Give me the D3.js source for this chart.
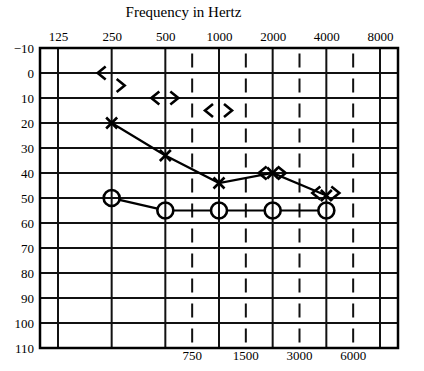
<!DOCTYPE html>
<html>
<head>
<meta charset="utf-8">
<script src="https://cdn.jsdelivr.net/npm/d3@7"></script>
<style>
  html, body { margin: 0; padding: 0; background: #fff; }
  svg { display: block; }
  text { font-family: "Liberation Serif", "Times New Roman", serif; fill: #000; }
</style>
</head>
<body>
<script>
// ---- data ----
const topFreqs = [125, 250, 500, 1000, 2000, 4000, 8000];
const midFreqs = [750, 1500, 3000, 6000];
const dbTicks = [-10, 0, 10, 20, 30, 40, 50, 60, 70, 80, 90, 100, 110];

// Air conduction, X symbols
const xFreqs = [250, 500, 1000, 2000, 4000];
const xValues = [20, 33, 44, 40, 49];

// Air conduction, O symbols
const oFreqs = [250, 500, 1000, 2000, 4000];
const oValues = [50, 55, 55, 55, 55];

// Bone conduction "<" symbols
const boneLeftFreqs = [250, 500, 1000, 2000, 4000];
const boneLeftValues = [0, 10, 15, 40, 48];

// Bone conduction ">" symbols
const boneRightFreqs = [250, 500, 1000, 2000, 4000];
const boneRightValues = [5, 10, 15, 40, 48];

const chartTitle = "Frequency in Hertz";

// ---- layout ----
const W = 424, H = 371;
const svg = d3.select("body").append("svg").attr("width", W).attr("height", H);

const x = d3.scaleLog().base(2).domain([125, 8000]).range([58, 380]);
const y = d3.scaleLinear().domain([-10, 110]).range([48, 348]);
// half-octave lines sit midway between the octave lines on the form
const midX = f => x(f / 1.5 * Math.SQRT2);
const pad = 18;
const plotLeft = x(125) - pad, plotRight = x(8000) + pad;
const plotTop = y(-10), plotBottom = y(110);

// horizontal grid lines
svg.append("g").selectAll("line").data(dbTicks).join("line")
  .attr("x1", plotLeft).attr("x2", plotRight)
  .attr("y1", d => y(d)).attr("y2", d => y(d))
  .attr("stroke", "#111").attr("stroke-width", 2);

// solid vertical lines
svg.append("g").selectAll("line").data(topFreqs).join("line")
  .attr("x1", d => x(d)).attr("x2", d => x(d))
  .attr("y1", plotTop).attr("y2", plotBottom)
  .attr("stroke", "#111").attr("stroke-width", 2);

// dashed vertical lines
svg.append("g").selectAll("line").data(midFreqs).join("line")
  .attr("x1", d => midX(d)).attr("x2", d => midX(d))
  .attr("y1", plotTop).attr("y2", plotBottom)
  .attr("stroke", "#111").attr("stroke-width", 2)
  .attr("stroke-dasharray", "14,11").attr("stroke-dashoffset", 19.5);

// frame
svg.append("rect")
  .attr("x", plotLeft).attr("y", plotTop)
  .attr("width", plotRight - plotLeft).attr("height", plotBottom - plotTop)
  .attr("fill", "none").attr("stroke", "#000").attr("stroke-width", 2.5);

// title
svg.append("text").attr("x", 183.5).attr("y", 17)
  .attr("text-anchor", "middle").attr("font-size", 15).text(chartTitle);

// top axis labels
const topAxis = d3.axisTop(x).tickValues(topFreqs).tickFormat(d3.format("d")).tickSize(0).tickPadding(7);
const gTop = svg.append("g").attr("transform", `translate(0,${plotTop})`).call(topAxis);
gTop.select(".domain").remove();
gTop.selectAll("text").attr("font-size", 13).attr("font-family", "Liberation Serif").attr("fill", "#000");

// bottom labels (half-octave)
svg.append("g").selectAll("text").data(midFreqs).join("text")
  .attr("x", d => midX(d)).attr("y", plotBottom + 12)
  .attr("text-anchor", "middle").attr("font-size", 13)
  .text(d3.format("d"));

// left axis labels
const leftAxis = d3.axisLeft(y).tickValues(dbTicks).tickFormat(d => d < 0 ? "\u2212" + Math.abs(d) : String(d)).tickSize(0).tickPadding(6);
const gLeft = svg.append("g").attr("transform", `translate(${plotLeft},0)`).call(leftAxis);
gLeft.select(".domain").remove();
gLeft.selectAll("text").attr("font-size", 13).attr("font-family", "Liberation Serif").attr("fill", "#000");

// ---- X series ----
const xData = xFreqs.map((f, i) => ({ f, v: xValues[i] }));
svg.append("path").datum(xData)
  .attr("d", d3.line().x(d => x(d.f)).y(d => y(d.v)))
  .attr("fill", "none").attr("stroke", "#000").attr("stroke-width", 2.2);
const s = 5.5;
svg.append("g").selectAll("path").data(xData).join("path")
  .attr("d", d => {
    const cx = x(d.f), cy = y(d.v);
    return `M${cx - s},${cy - s}L${cx + s},${cy + s}M${cx - s},${cy + s}L${cx + s},${cy - s}`;
  })
  .attr("stroke", "#000").attr("stroke-width", 2.6).attr("fill", "none");

// ---- O series ----
const r = 8;
const oData = oFreqs.map((f, i) => ({ f, v: oValues[i] }));
const segs = d3.pairs(oData);
svg.append("g").selectAll("line").data(segs).join("line")
  .each(function ([a, b]) {
    const x1 = x(a.f), y1 = y(a.v), x2 = x(b.f), y2 = y(b.v);
    const len = Math.hypot(x2 - x1, y2 - y1);
    const ux = (x2 - x1) / len, uy = (y2 - y1) / len;
    d3.select(this)
      .attr("x1", x1 + ux * r).attr("y1", y1 + uy * r)
      .attr("x2", x2 - ux * r).attr("y2", y2 - uy * r);
  })
  .attr("stroke", "#000").attr("stroke-width", 2.2);
svg.append("g").selectAll("circle").data(oData).join("circle")
  .attr("cx", d => x(d.f)).attr("cy", d => y(d.v)).attr("r", r)
  .attr("fill", "none").attr("stroke", "#000").attr("stroke-width", 2.6);

// ---- bone conduction chevrons ----
const cw = 4, ch = 6.5;
const leftData = boneLeftFreqs.map((f, i) => ({ f, v: boneLeftValues[i] }));
const rightData = boneRightFreqs.map((f, i) => ({ f, v: boneRightValues[i] }));
svg.append("g").selectAll("path").data(leftData).join("path")
  .attr("d", d => {
    const cx = x(d.f) - 10, cy = y(d.v);
    return `M${cx + cw},${cy - ch}L${cx - cw},${cy}L${cx + cw},${cy + ch}`;
  })
  .attr("fill", "none").attr("stroke", "#000").attr("stroke-width", 2.6);
svg.append("g").selectAll("path").data(rightData).join("path")
  .attr("d", d => {
    const cx = x(d.f) + 9, cy = y(d.v);
    return `M${cx - cw},${cy - ch}L${cx + cw},${cy}L${cx - cw},${cy + ch}`;
  })
  .attr("fill", "none").attr("stroke", "#000").attr("stroke-width", 2.6);
</script>
</body>
</html>
